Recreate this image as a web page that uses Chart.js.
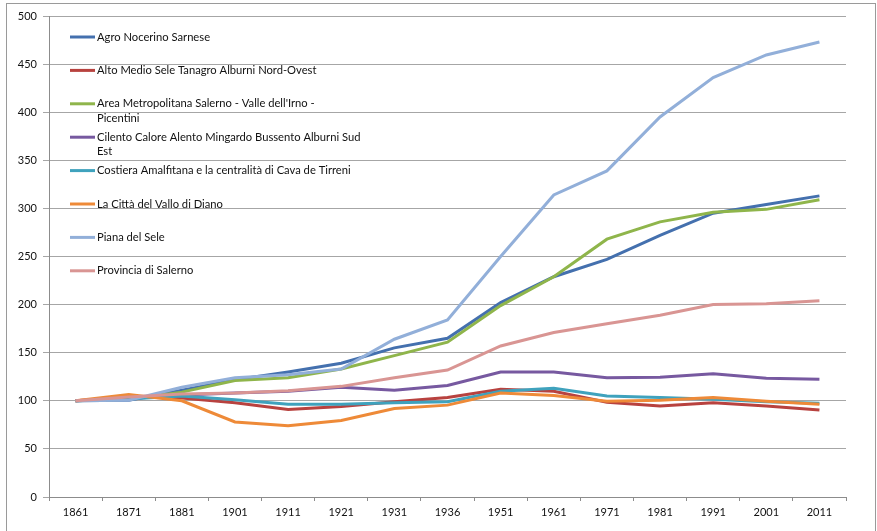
<!DOCTYPE html>
<html>
<head>
<meta charset="utf-8">
<script src="https://cdn.jsdelivr.net/npm/chart.js@4/dist/chart.umd.min.js"></script>
<style>
html,body{margin:0;padding:0;background:#fff;}
#wrap{position:relative;width:877px;height:531px;}
canvas{display:block;}
</style>
</head>
<body>
<div id="wrap"><canvas id="c" width="877" height="531"></canvas></div>
<script>
const years = ["1861","1871","1881","1901","1911","1921","1931","1936","1951","1961","1971","1981","1991","2001","2011"];
const yTicks = [0,50,100,150,200,250,300,350,400,450,500];

const seriesNames = [
  ["Agro Nocerino Sarnese"],
  ["Alto Medio Sele Tanagro Alburni Nord-Ovest"],
  ["Area Metropolitana Salerno - Valle dell'Irno -", "Picentini"],
  ["Cilento Calore Alento Mingardo Bussento Alburni Sud", "Est"],
  ["Costiera Amalfitana e la centralità di Cava de Tirreni"],
  ["La Città del Vallo di Diano"],
  ["Piana del Sele"],
  ["Provincia di Salerno"]
];

const agroNocerino   = [100,100.5,111,122,130,139,155,165,202,229,247,272,295,304,313];
const altoMedioSele  = [100,104,103,98,91,94,99,103.5,112,110,98.5,94.5,98,94.5,90.5];
const areaMetro      = [100,101.5,109,121,124,133,147,161,199,229,268,286,296,299,309];
const cilento        = [100,102,106,108,110,114,111,116,130,130,124,124.5,128,123.5,122.5];
const costiera       = [100,102,105,101,96.5,96.5,98,99,110,113,105,103.5,101.5,99,97.5];
const valloDiano     = [100,106.5,100,78,74,79.5,92,95.5,108,105.5,99.5,100.5,103.5,99.5,96.5];
const pianaSele      = [100,100.5,114,124,127,133,164,184,250,314,339,395,436,459.5,473];
const provincia      = [100,104,107,108,110.5,115,124,132,157,171,180,189,200,201,204];

const seriesValues = [agroNocerino, altoMedioSele, areaMetro, cilento, costiera, valloDiano, pianaSele, provincia];
const seriesColors = ["#4470AE","#B8423F","#8FB54B","#7759A0","#3FA2BD","#EE8A38","#92AFD9","#D99593"];

const FONT = "Lato, 'Liberation Sans', sans-serif";

const datasets = seriesValues.map((vals, i) => ({
  label: seriesNames[i].join(" "),
  data: vals,
  borderColor: seriesColors[i],
  backgroundColor: seriesColors[i],
  borderWidth: 3,
  pointRadius: 0,
  tension: 0,
  fill: false,
  order: seriesValues.length - i
}));

const frame = {
  id: 'frame',
  beforeDraw(chart) {
    const ctx = chart.ctx;
    ctx.save();
    ctx.fillStyle = '#fff';
    ctx.fillRect(0, 0, chart.width, chart.height);
    ctx.strokeStyle = '#9a9a9a';
    ctx.lineWidth = 1;
    ctx.strokeRect(6.5, 3.5, 869, 540);
    ctx.restore();
  }
};

const insideLegend = {
  id: 'insideLegend',
  afterDatasetsDraw(chart) {
    const ctx = chart.ctx;
    ctx.save();
    ctx.font = "11.2px " + FONT;
    ctx.textBaseline = 'middle';
    ctx.textAlign = 'left';
    chart.data.datasets.forEach((ds, i) => {
      const y = 37 + i * 33.4;
      ctx.strokeStyle = ds.borderColor;
      ctx.lineWidth = 3;
      ctx.beginPath();
      ctx.moveTo(70, y);
      ctx.lineTo(95, y);
      ctx.stroke();
      ctx.fillStyle = '#111';
      seriesNames[i].forEach((line, k) => {
        ctx.fillText(line, 97, y + k * 14.5);
      });
    });
    ctx.restore();
  }
};

new Chart(document.getElementById('c'), {
  type: 'line',
  data: { labels: years, datasets },
  options: {
    responsive: false,
    animation: false,
    devicePixelRatio: 1,
    layout: { padding: { top: 16, right: 31, left: 0, bottom: 0 } },
    plugins: { legend: { display: false }, tooltip: { enabled: false } },
    scales: {
      x: {
        type: 'category',
        offset: true,
        grid: { display: true, drawOnChartArea: false, drawTicks: true, tickLength: 4, color: '#8c8c8c', offset: true },
        border: { display: true, color: '#8c8c8c', width: 1 },
        ticks: { color: '#111', font: { family: FONT, size: 11 }, padding: 5, maxRotation: 0, autoSkip: false },
        afterFit(s) { s.height = 34; }
      },
      y: {
        min: 0, max: 500,
        afterBuildTicks(s) { s.ticks = yTicks.map(v => ({ value: v })); },
        grid: { color: '#a6a6a6', lineWidth: 1, drawTicks: true, tickLength: 6 },
        border: { display: true, color: '#8c8c8c', width: 1 },
        ticks: { color: '#111', font: { family: FONT, size: 11 }, padding: 6 },
        afterFit(s) { s.width = 49; }
      }
    }
  },
  plugins: [frame, insideLegend]
});
</script>
</body>
</html>
